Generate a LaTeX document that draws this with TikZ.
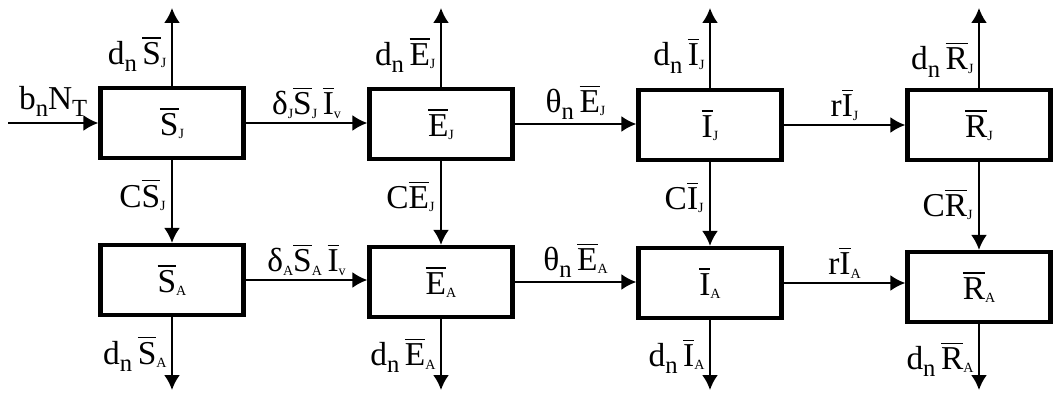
\documentclass[tikz,border=0pt]{standalone}
\usepackage{amsmath}
\usepackage{fontspec}
\setmainfont{Liberation Serif}
\usetikzlibrary{arrows.meta}

\newcommand{\ov}[1]{$\overline{\mbox{#1}}$}
\newcommand{\lo}[1]{\raisebox{-2pt}{\fontsize{8}{8}\selectfont #1}}
\newcommand{\sn}[1]{\raisebox{-4pt}{\fontsize{14}{14}\selectfont #1}}

\begin{document}
\begin{tikzpicture}[
    x=0.02cm,y=-0.02cm,>={Latex[length=3mm,width=3.2mm]},
    comp/.style={draw,line width=2.4pt,minimum width=2.86cm,minimum height=1.4cm,
      inner sep=0pt,font=\fontsize{19}{22}\selectfont},
    lab/.style={inner sep=1pt,font=\fontsize{19}{22}\selectfont},
    flow/.style={->,line width=1.3pt}
  ]
  \useasboundingbox (0,0) rectangle (1055,398);
  \coordinate (top) at (0,8);
  \coordinate (bot) at (0,390);
  \coordinate (src) at (8,123);
  % juvenile row
  \node[comp] (sj) at (172,123) {\ov{S}\lo{J}};
  \node[comp] (ej) at (441,124) {\ov{E}\lo{J}};
  \node[comp] (ij) at (710,125) {\ov{I}\lo{J}};
  \node[comp] (rj) at (979,125) {\ov{R}\lo{J}};
  % adult row
  \node[comp] (sa) at (172,280) {\ov{S}\lo{A}};
  \node[comp] (ea) at (441,282) {\ov{E}\lo{A}};
  \node[comp] (ia) at (710,283) {\ov{I}\lo{A}};
  \node[comp] (ra) at (979,287) {\ov{R}\lo{A}};
  % inflow
  \draw[flow] (src) -- (src -| sj.west)
    node[lab,midway,above=2pt] (lbn) {b\sn{n}N\sn{T}};
  % transitions
  \draw[flow] (sj.east) -- (sj.east -| ej.west)
    node[lab,midway,above=1pt] (lsj) {δ\lo{J}\ov{S}\lo{J}\,\ov{I}\lo{v}};
  \draw[flow] (ej.east) -- (ej.east -| ij.west)
    node[lab,midway,above=1pt] (lej) {θ\sn{n}\,\ov{E}\lo{J}};
  \draw[flow] (ij.east) -- (ij.east -| rj.west)
    node[lab,midway,above=1pt] (lij) {r\ov{I}\lo{J}};
  \draw[flow] (sa.east) -- (sa.east -| ea.west)
    node[lab,midway,above=1pt] (lsa) {δ\lo{A}\ov{S}\lo{A}\,\ov{I}\lo{v}};
  \draw[flow] (ea.east) -- (ea.east -| ia.west)
    node[lab,midway,above=1pt] (lea) {θ\sn{n}\,\ov{E}\lo{A}};
  \draw[flow] (ia.east) -- (ia.east -| ra.west)
    node[lab,midway,above=1pt] (lia) {r\ov{I}\lo{A}};
  % maturation
  \draw[flow] (sj.south) -- (sa.north)
    node[lab,pos=0.42,anchor=east,xshift=-2pt] (csj) {C\ov{S}\lo{J}};
  \draw[flow] (ej.south) -- (ea.north)
    node[lab,pos=0.42,anchor=east,xshift=-2pt] (cej) {C\ov{E}\lo{J}};
  \draw[flow] (ij.south) -- (ia.north)
    node[lab,pos=0.42,anchor=east,xshift=-2pt] (cij) {C\ov{I}\lo{J}};
  \draw[flow] (rj.south) -- (ra.north)
    node[lab,pos=0.48,anchor=east,xshift=-2pt] (crj) {C\ov{R}\lo{J}};
  % deaths
  \draw[flow] (sj.north) -- (sj.north |- top)
    node[lab,pos=0.15,anchor=south east,xshift=-1.5pt] (dsj) {d\sn{n}\,\ov{S}\lo{J}};
  \draw[flow] (ej.north) -- (ej.north |- top)
    node[lab,pos=0.15,anchor=south east,xshift=-1.5pt] (dej) {d\sn{n}\,\ov{E}\lo{J}};
  \draw[flow] (ij.north) -- (ij.north |- top)
    node[lab,pos=0.15,anchor=south east,xshift=-1.5pt] (dij) {d\sn{n}\,\ov{I}\lo{J}};
  \draw[flow] (rj.north) -- (rj.north |- top)
    node[lab,pos=0.10,anchor=south east,xshift=-1.5pt] (drj) {d\sn{n}\,\ov{R}\lo{J}};
  \draw[flow] (sa.south) -- (sa.south |- bot)
    node[lab,pos=0.22,anchor=north east,xshift=-1.5pt] (dsa) {d\sn{n}\,\ov{S}\lo{A}};
  \draw[flow] (ea.south) -- (ea.south |- bot)
    node[lab,pos=0.22,anchor=north east,xshift=-1.5pt] (dea) {d\sn{n}\,\ov{E}\lo{A}};
  \draw[flow] (ia.south) -- (ia.south |- bot)
    node[lab,pos=0.22,anchor=north east,xshift=-1.5pt] (dia) {d\sn{n}\,\ov{I}\lo{A}};
  \draw[flow] (ra.south) -- (ra.south |- bot)
    node[lab,pos=0.22,anchor=north east,xshift=-1.5pt] (dra) {d\sn{n}\,\ov{R}\lo{A}};
\end{tikzpicture}
\end{document}
